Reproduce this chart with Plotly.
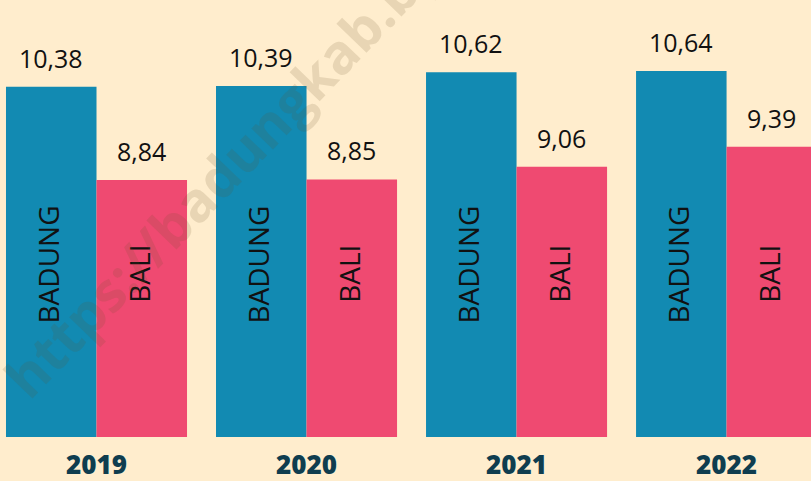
import plotly.graph_objects as go

years = ["2019", "2020", "2021", "2022"]
badung = [10.38, 10.39, 10.62, 10.64]
bali = [8.84, 8.85, 9.06, 9.39]
series_names = ["BADUNG", "BALI"]

def fmt(v):
    return f"{v:.2f}".replace(".", ",")

BG = "#FFEDCD"
BLUE = "#128AB2"
PINK = "#EF4A71"
FONT = "Open Sans"

fig = go.Figure()
fig.add_trace(go.Bar(x=years, y=badung, name=series_names[0], marker=dict(color=BLUE, line=dict(width=0))))
fig.add_trace(go.Bar(x=years, y=bali, name=series_names[1], marker=dict(color=PINK, line=dict(width=0))))

half = 45.3
annotations = []
for i, yr in enumerate(years):
    for vals, shift, lbl, ly in ((badung, -half, series_names[0], 7.45), (bali, half, series_names[1], 7.29)):
        annotations.append(dict(x=i, y=vals[i], xref="x", yref="y", xshift=shift, yshift=10,
                                text=fmt(vals[i]), showarrow=False, yanchor="bottom",
                                font=dict(family=FONT, size=25, color="#111111")))
        annotations.append(dict(x=i, y=ly, xref="x", yref="y", xshift=shift - 3,
                                text=lbl, showarrow=False, textangle=-90,
                                font=dict(family=FONT, size=28, color="#111111")))

annotations.append(dict(x=0.35, y=0.753, xref="paper", yref="paper",
                        text="<b>https://badungkab.bps.go.id</b>", showarrow=False,
                        textangle=-46, xanchor="center", yanchor="middle",
                        font=dict(family=FONT, size=55, color="rgba(100,80,40,0.15)")))

fig.update_layout(
    width=811, height=481,
    margin=dict(l=0, r=0, t=0, b=44),
    paper_bgcolor=BG, plot_bgcolor=BG,
    barmode="group", bargap=0.138, bargroupgap=0,
    showlegend=False,
    xaxis=dict(type="category", range=[-0.4595, 3.402], showgrid=False, zeroline=False,
               showline=False, ticks="", ticklabelstandoff=10, automargin=False,
               tickfont=dict(family=FONT, size=26, color="#0F3D4F", weight=800)),
    yaxis=dict(visible=False, range=[4.6, 11.81], showgrid=False, zeroline=False, automargin=False),
    annotations=annotations,
)

fig.write_html("out.html", config={"displayModeBar": False},
               post_script="document.body.style.margin='0';document.body.style.overflow='hidden';")
